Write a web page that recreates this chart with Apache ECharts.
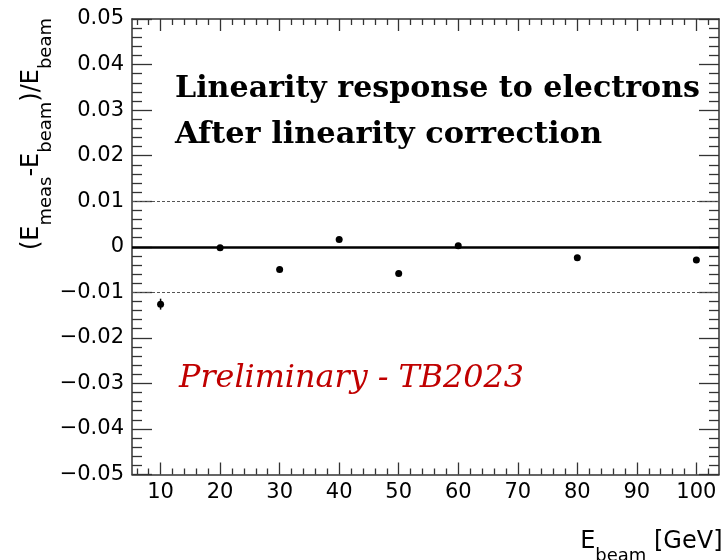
<!DOCTYPE html>
<html>
<head>
<meta charset="utf-8">
<script src="https://cdn.jsdelivr.net/npm/echarts@6/dist/echarts.min.js"></script>
<style>
  html, body { margin: 0; padding: 0; background: #fff; }
  #chart { width: 723px; height: 560px; }
</style>
</head>
<body>
<div id="chart"></div>
<script>
// Beam energies (GeV) and relative energy deviation (E_meas - E_beam) / E_beam
const beamEnergies = [10, 20, 30, 40, 50, 60, 80, 100];
const relDeviation = [-0.0126, -0.0002, -0.0050, 0.0016, -0.0059, 0.0002, -0.0024, -0.0029];
const relDeviationErr = [0.0012, 0.0004, 0.0004, 0.0002, 0.0002, 0.0002, 0.0002, 0.0002];

// Axis ranges and tick positions
const xRange = [5.2, 103.8];
const xMajorTicks = [10, 20, 30, 40, 50, 60, 70, 80, 90, 100];
const xMinorTicks = [6, 8, 12, 14, 16, 18, 22, 24, 26, 28, 32, 34, 36, 38, 42, 44, 46, 48,
                     52, 54, 56, 58, 62, 64, 66, 68, 72, 74, 76, 78, 82, 84, 86, 88,
                     92, 94, 96, 98, 102];
const yRange = [-0.05, 0.05];
const yStep = 0.01;
const bandLimits = [-0.01, 0.01];

const AXIS_COLOR = '#333';
const SANS = '"DejaVu Sans"';
const SERIF = '"DejaVu Serif"';

// ---- text measurement helpers ----
const measureCtx = document.createElement('canvas').getContext('2d');
function textWidth(str, font) {
  measureCtx.font = font;
  measureCtx.textBaseline = 'alphabetic';
  return measureCtx.measureText(str).width;
}
// distance from the 'middle' text line to the alphabetic baseline
function middleToBaseline(font) {
  measureCtx.font = font;
  measureCtx.textBaseline = 'alphabetic';
  const a = measureCtx.measureText('H').actualBoundingBoxAscent;
  measureCtx.textBaseline = 'middle';
  const m = measureCtx.measureText('H').actualBoundingBoxAscent;
  measureCtx.textBaseline = 'alphabetic';
  return a - m;
}
// single-line text placed by left edge and baseline, stretched to a given width
function fittedText(str, font, color, left, baseline, width) {
  return {
    type: 'text',
    x: left,
    y: baseline - middleToBaseline(font),
    scaleX: width / textWidth(str, font),
    silent: true,
    style: { text: str, font: font, fill: color, align: 'left', verticalAlign: 'middle' }
  };
}
// text run with subscripts, laid out along local x with baseline at local y = 0
function subscriptRun(pieces, mainFont, subFont, subDrop) {
  let cursor = 0;
  const children = pieces.map(p => {
    const font = p.sub ? subFont : mainFont;
    const el = {
      type: 'text',
      x: cursor,
      y: (p.sub ? subDrop : 0) - middleToBaseline(font),
      silent: true,
      style: { text: p.text, font: font, fill: '#000', align: 'left', verticalAlign: 'middle' }
    };
    cursor += textWidth(p.text, font);
    return el;
  });
  return { children, width: cursor };
}

const titleMain = '24px ' + SANS;
const titleSub = '18px ' + SANS;
const subDrop = 12.5;

const yTitle = subscriptRun([
  { text: '(E' }, { text: 'meas', sub: true }, { text: '-E' }, { text: 'beam', sub: true },
  { text: ')/E' }, { text: 'beam', sub: true }
], titleMain, titleSub, subDrop);

const xTitle = subscriptRun([
  { text: 'E' }, { text: 'beam', sub: true }, { text: ' [GeV]' }
], titleMain, titleSub, subDrop);

// ---- axes ----
function xAxisCfg(position, ticks, tickLen, withLabels, withLine) {
  return {
    type: 'value',
    position: position,
    min: xRange[0],
    max: xRange[1],
    axisLine: { show: withLine, onZero: false, lineStyle: { color: AXIS_COLOR, width: 1.5 } },
    axisTick: { show: true, inside: true, length: tickLen, customValues: ticks,
                lineStyle: { color: AXIS_COLOR, width: 1.3 } },
    axisLabel: withLabels
      ? { show: true, customValues: ticks, margin: 8, color: '#000', fontFamily: SANS, fontSize: 21 }
      : { show: false },
    splitLine: { show: false }
  };
}

function yLabel(v) {
  if (Math.abs(v) < 1e-9) return '0';
  return (v < 0 ? '\u2212' : '') + Math.abs(v).toFixed(2);
}

function yAxisCfg(position, withLabels) {
  return {
    type: 'value',
    position: position,
    min: yRange[0],
    max: yRange[1],
    interval: yStep,
    axisLine: { show: true, onZero: false, lineStyle: { color: AXIS_COLOR, width: 1.5 } },
    axisTick: { show: true, inside: true, length: 20, lineStyle: { color: AXIS_COLOR, width: 1.3 } },
    minorTick: { show: true, splitNumber: 5, length: 10, lineStyle: { color: AXIS_COLOR, width: 1.3 } },
    axisLabel: withLabels
      ? { show: true, formatter: yLabel, margin: 8, color: '#000', fontFamily: SANS, fontSize: 21,
          showMinLabel: true, showMaxLabel: true }
      : { show: false },
    splitLine: { show: false },
    minorSplitLine: { show: false }
  };
}

const chart = echarts.init(document.getElementById('chart'), null, { renderer: 'canvas' });

chart.setOption({
  backgroundColor: '#fff',
  animation: false,
  grid: { left: 132, right: 4, top: 19, bottom: 85.5, containLabel: false, outerBoundsMode: 'none' },
  xAxis: [
    xAxisCfg('bottom', xMajorTicks, 12, true, true),
    xAxisCfg('bottom', xMinorTicks, 6, false, false),
    xAxisCfg('top', xMajorTicks, 12, false, true),
    xAxisCfg('top', xMinorTicks, 6, false, false)
  ],
  yAxis: [
    yAxisCfg('left', true),
    yAxisCfg('right', false)
  ],
  series: [
    {
      // reference lines: zero and the +-1% band
      type: 'line',
      xAxisIndex: 0,
      yAxisIndex: 0,
      data: [],
      z: 1,
      markLine: {
        silent: true,
        symbol: 'none',
        animation: false,
        label: { show: false },
        data: [
          { yAxis: 0, lineStyle: { color: '#000', width: 2.5, type: 'solid' } },
          { yAxis: bandLimits[1], lineStyle: { color: '#555', width: 1, type: [3, 2] } },
          { yAxis: bandLimits[0], lineStyle: { color: '#555', width: 1, type: [3, 2] } }
        ]
      }
    },
    {
      // vertical error bars
      type: 'custom',
      xAxisIndex: 0,
      yAxisIndex: 0,
      z: 3,
      data: beamEnergies.map((e, i) => [e, relDeviation[i], relDeviationErr[i]]),
      renderItem: function (params, api) {
        const x = api.value(0), y = api.value(1), err = api.value(2);
        const lo = api.coord([x, y - err]);
        const hi = api.coord([x, y + err]);
        return {
          type: 'line',
          shape: { x1: lo[0], y1: lo[1], x2: hi[0], y2: hi[1] },
          style: { stroke: '#000', lineWidth: 1.5 }
        };
      }
    },
    {
      type: 'scatter',
      xAxisIndex: 0,
      yAxisIndex: 0,
      z: 4,
      symbol: 'circle',
      symbolSize: 7,
      itemStyle: { color: '#000', opacity: 1 },
      data: beamEnergies.map((e, i) => [e, relDeviation[i]])
    }
  ],
  graphic: [
    fittedText('Linearity response to electrons', 'bold 29px ' + SERIF, '#000', 175, 96.7, 525),
    fittedText('After linearity correction', 'bold 29px ' + SERIF, '#000', 175, 143.3, 427),
    fittedText('Preliminary - TB2023', 'italic 32px ' + SERIF, '#c00000', 179, 387.3, 345),
    {
      type: 'group',
      x: 38.3,
      y: 18 + yTitle.width,
      rotation: Math.PI / 2,
      children: yTitle.children
    },
    {
      type: 'group',
      x: 722.5 - xTitle.width,
      y: 548.3,
      children: xTitle.children
    }
  ]
});
</script>
</body>
</html>
